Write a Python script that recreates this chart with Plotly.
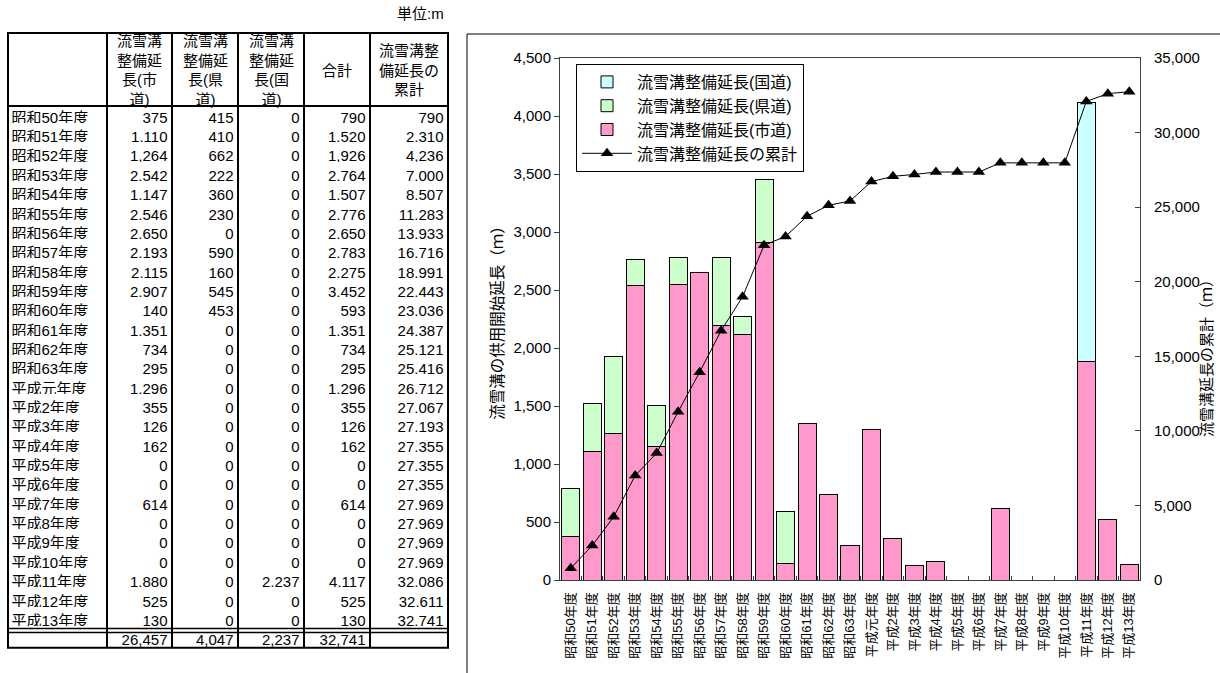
import plotly.graph_objects as go

W, H = 1220, 673

years = ["昭和50年度", "昭和51年度", "昭和52年度", "昭和53年度", "昭和54年度", "昭和55年度",
         "昭和56年度", "昭和57年度", "昭和58年度", "昭和59年度", "昭和60年度", "昭和61年度",
         "昭和62年度", "昭和63年度", "平成元年度", "平成2年度", "平成3年度", "平成4年度",
         "平成5年度", "平成6年度", "平成7年度", "平成8年度", "平成9年度", "平成10年度",
         "平成11年度", "平成12年度", "平成13年度"]
city = [375, 1110, 1264, 2542, 1147, 2546, 2650, 2193, 2115, 2907, 140, 1351, 734, 295,
        1296, 355, 126, 162, 0, 0, 614, 0, 0, 0, 1880, 525, 130]
pref = [415, 410, 662, 222, 360, 230, 0, 590, 160, 545, 453, 0, 0, 0,
        0, 0, 0, 0, 0, 0, 0, 0, 0, 0, 0, 0, 0]
national = [0, 0, 0, 0, 0, 0, 0, 0, 0, 0, 0, 0, 0, 0,
            0, 0, 0, 0, 0, 0, 0, 0, 0, 0, 2237, 0, 0]
total = [790, 1520, 1926, 2764, 1507, 2776, 2650, 2783, 2275, 3452, 593, 1351, 734, 295,
         1296, 355, 126, 162, 0, 0, 614, 0, 0, 0, 4117, 525, 130]
cumulative = [790, 2310, 4236, 7000, 8507, 11283, 13933, 16716, 18991, 22443, 23036, 24387,
              25121, 25416, 26712, 27067, 27193, 27355, 27355, 27355, 27969, 27969, 27969,
              27969, 32086, 32611, 32741]
sum_row = ["", "26,457", "4,047", "2,237", "32,741", ""]

header = ["", "流雪溝<br>整備延<br>長(市<br>道)", "流雪溝<br>整備延<br>長(県<br>道)",
          "流雪溝<br>整備延<br>長(国<br>道)", "合計", "流雪溝整<br>備延長の<br>累計"]

name_nat = "流雪溝整備延長(国道)"
name_pref = "流雪溝整備延長(県道)"
name_city = "流雪溝整備延長(市道)"
name_cum = "流雪溝整備延長の累計"

FONT = "Liberation Sans, Arial, Noto Sans CJK JP, sans-serif"

# ---------------- table layout (pixels) ----------------
tbl_left, tbl_top = 8, 33
colw = [99, 65, 66, 66, 66, 78]
head_h = 73
row_h = 19.35
n_rows = len(years) + 1
tbl_right = tbl_left + sum(colw)
tbl_bottom = tbl_top + head_h + n_rows * row_h
text_lift = 2.5      # plotly draws cell text slightly low; lift the table body a little

def px(x):
    return x / W

def py(y):
    return 1 - y / H

fmt = lambda v: f"{v:,}"
cells = [
    years + [sum_row[0]],
    [fmt(v) for v in city] + [sum_row[1]],
    [fmt(v) for v in pref] + [sum_row[2]],
    [fmt(v) for v in national] + [sum_row[3]],
    [fmt(v) for v in total] + [sum_row[4]],
    [fmt(v) for v in cumulative] + [sum_row[5]],
]

fig = go.Figure()

cell_font = dict(family=FONT, size=15, color="black")
noline = dict(width=0, color="white")
# first column (left aligned text, shifted left to reduce plotly's cell padding)
fig.add_trace(go.Table(
    domain=dict(x=[px(tbl_left - 4.5), px(tbl_left + colw[0] - 4.5)],
                y=[0, py(tbl_top - text_lift)]),
    columnwidth=[colw[0]],
    header=dict(values=[""], height=head_h, fill_color="white", line=noline),
    cells=dict(values=[cells[0]], height=row_h, fill_color="white", align="left",
               font=cell_font, line=noline),
))
# numeric columns (right aligned, shifted right)
fig.add_trace(go.Table(
    domain=dict(x=[px(tbl_left + colw[0] + 3.5), px(tbl_right + 3.5)],
                y=[0, py(tbl_top - text_lift)]),
    columnwidth=colw[1:],
    header=dict(values=[""] * 5, height=head_h, fill_color="white", line=noline),
    cells=dict(values=cells[1:], height=row_h, fill_color="white", align="right",
               font=cell_font, line=noline),
))

# ---------------- chart ----------------
nz = lambda arr: [v if v != 0 else None for v in arr]

fig.add_trace(go.Bar(x=years, y=nz(city), name=name_city, legendrank=3,
                     marker=dict(color="#FF99CC", line=dict(color="black", width=1))))
fig.add_trace(go.Bar(x=years, y=nz(pref), name=name_pref, legendrank=2,
                     marker=dict(color="#CCFFCC", line=dict(color="black", width=1))))
fig.add_trace(go.Bar(x=years, y=nz(national), name=name_nat, legendrank=1,
                     marker=dict(color="#CCFFFF", line=dict(color="black", width=1))))
fig.add_trace(go.Scatter(x=years, y=cumulative, name=name_cum, legendrank=4, yaxis="y2",
                         mode="lines+markers",
                         line=dict(color="black", width=1),
                         marker=dict(symbol="triangle-up", size=11, color="black")))

plot_l, plot_r, plot_t, plot_b = 560, 1140, 58, 580
axcol = "#404040"

shapes = []
lw = 2
shapes.append(dict(type="rect", xref="paper", yref="paper",
                   x0=px(tbl_left), x1=px(tbl_right), y0=py(tbl_bottom), y1=py(tbl_top),
                   line=dict(color="black", width=lw)))
xb = tbl_left
for w in colw[:-1]:
    xb += w
    shapes.append(dict(type="line", xref="paper", yref="paper",
                       x0=px(xb), x1=px(xb), y0=py(tbl_bottom), y1=py(tbl_top),
                       line=dict(color="black", width=lw)))
shapes.append(dict(type="line", xref="paper", yref="paper",
                   x0=px(tbl_left), x1=px(tbl_right), y0=py(tbl_top + head_h), y1=py(tbl_top + head_h),
                   line=dict(color="black", width=lw)))
y_sum = tbl_top + head_h + len(years) * row_h
for dy in (0, 4):
    shapes.append(dict(type="line", xref="paper", yref="paper",
                       x0=px(tbl_left), x1=px(tbl_right), y0=py(y_sum + dy), y1=py(y_sum + dy),
                       line=dict(color="black", width=1.5)))
# chart outer frame
shapes.append(dict(type="rect", xref="paper", yref="paper",
                   x0=px(467), x1=1.02, y0=-0.02, y1=py(34),
                   line=dict(color="black", width=1)))

annotations = []
xb = tbl_left
for h, w in zip(header, colw):
    annotations.append(dict(text=h, xref="paper", yref="paper",
                            x=px(xb + w / 2), y=py(tbl_top + head_h / 2 + 1),
                            xanchor="center", yanchor="middle", showarrow=False,
                            align="center", font=dict(family=FONT, size=15, color="black")))
    xb += w
annotations.append(dict(text="単位:m", xref="paper", yref="paper", x=px(446), y=py(13),
                        xanchor="right", yanchor="middle", showarrow=False,
                        font=dict(family=FONT, size=15, color="black")))
annotations.append(dict(text="流雪溝延長の累計（ｍ）", xref="paper", yref="paper",
                        x=px(1206), y=py(355), textangle=-90, showarrow=False,
                        xanchor="center", yanchor="middle",
                        font=dict(family=FONT, size=15, color="black")))

fig.update_layout(
    width=W, height=H,
    margin=dict(l=0, r=0, t=0, b=0, autoexpand=False),
    paper_bgcolor="white", plot_bgcolor="white",
    font=dict(family=FONT, size=15, color="black"),
    barmode="stack", bargap=0.16,
    showlegend=True,
    legend=dict(x=px(576), y=py(64), xanchor="left", yanchor="top",
                bgcolor="white", bordercolor="black", borderwidth=1, itemwidth=50,
                font=dict(family=FONT, size=16, color="black"), traceorder="normal"),
    xaxis=dict(domain=[px(plot_l), px(plot_r)], type="category", range=[-0.5, 26.5],
               automargin=False,
               showline=True, linecolor=axcol, linewidth=1, mirror=True,
               ticks="inside", ticklen=4, tickcolor=axcol, tickson="boundaries",
               tickangle=-90, tickfont=dict(size=13), ticklabelstandoff=6, showgrid=False),
    yaxis=dict(domain=[py(plot_b), py(plot_t)], range=[0, 4500], dtick=500, tickformat=",",
               automargin=False,
               showline=True, linecolor=axcol, linewidth=1, mirror=True,
               ticks="outside", ticklen=5, tickcolor=axcol, showgrid=False, zeroline=False,
               title=dict(text="流雪溝の供用開始延長（ｍ）", standoff=6, font=dict(size=15.5))),
    yaxis2=dict(overlaying="y", side="right", anchor="x", range=[0, 35000], dtick=5000,
                automargin=False,
                tickformat=",", showline=True, linecolor=axcol, linewidth=1,
                ticks="inside", ticklen=5, tickcolor=axcol, ticklabelstandoff=10,
                showgrid=False, zeroline=False),
    shapes=shapes,
    annotations=annotations,
)

fig.write_html("out.html")
